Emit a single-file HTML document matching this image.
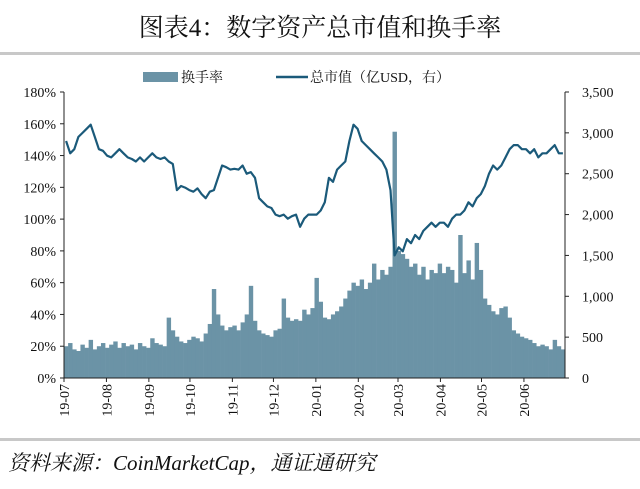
<!DOCTYPE html>
<html><head><meta charset="utf-8"><style>
body{margin:0;background:#fff;width:640px;height:484px;overflow:hidden;font-family:"Liberation Serif","Noto Serif CJK SC",serif}
</style></head><body>
<svg width="640" height="484" xmlns="http://www.w3.org/2000/svg">
<text x="320" y="36" text-anchor="middle" font-size="25" fill="#111" font-family="Liberation Serif, Noto Serif CJK SC, serif">图表4：数字资产总市值和换手率</text>
<rect x="0" y="52" width="640" height="3" fill="#c8c8c8"/>
<g>
<rect x="143" y="72" width="35" height="10" fill="#6b93a6"/>
<text x="181" y="82" font-size="14" fill="#111">换手率</text>
<line x1="276" y1="77" x2="308" y2="77" stroke="#1b5a7a" stroke-width="2.5"/>
<text x="310" y="82" font-size="14" fill="#111">总市值（亿USD，右）</text>
</g>
<g id="plot"></g>
<rect x="0" y="438" width="640" height="3" fill="#c8c8c8"/>
<text x="8" y="470" font-size="21" font-style="italic" fill="#111">资料来源：CoinMarketCap，通证通研究</text>
</svg>
<script>
const turnover=[20,22,18,17,21,19,24,18,20,22,19,
21,23,19,22,20,21,18,22,20,19,
25,22,21,20,38,30,26,23,22,24,
26,25,23,28,34,56,40,33,30,32,
33,30,35,40,58,36,30,28,27,26,
30,31,50,38,36,37,36,43,40,44,
63,48,38,37,40,42,45,50,55,60,58,
62,56,60,72,62,68,65,70,155,
80,78,75,70,72,65,70,62,68,66,72,
66,70,68,60,90,66,74,62,85,68,
50,46,42,40,44,45,38,30,28,26,
25,24,22,20,21,20,18,24,20,18];
const marketCap=[2900,2750,2800,2950,3000,3050,3100,2950,2800,2780,2720,
2700,2750,2800,2750,2700,2680,2650,2700,2650,2700,
2750,2700,2680,2700,2650,2620,2300,2350,2330,2300,
2280,2320,2250,2200,2280,2300,2450,2600,2580,2550,
2560,2550,2600,2500,2520,2450,2200,2150,2100,2080,
2000,1980,2000,1950,1980,2000,1850,1950,2000,2000,
2000,2050,2150,2450,2400,2550,2600,2650,2900,3100,3050,
2900,2850,2800,2750,2700,2650,2550,2300,1500,
1600,1550,1700,1650,1750,1700,1800,1850,1900,1850,1900,
1900,1850,1950,2000,2000,2050,2150,2100,2200,2250,
2350,2500,2600,2550,2600,2700,2800,2850,2850,2800,
2800,2750,2800,2700,2750,2750,2800,2850,2750,2750];
const leftTicks=[0,20,40,60,80,100,120,140,160,180];
const rightTicks=[0,500,1000,1500,2000,2500,3000,3500];
const rightLabels=["0","500","1,000","1,500","2,000","2,500","3,000","3,500"];
const monthLabels=["19-07","19-08","19-09","19-10","19-11","19-12","20-01","20-02","20-03","20-04","20-05","20-06"];
const monthDays=[0,31,62,92,123,153,184,215,244,275,305,336];
const X0=64,X1=565,Y0=378,Y1=92,TOTAL=366,STEP=3;
const xd=d=>X0+d/TOTAL*(X1-X0);
const yl=v=>Y0-v/180*(Y0-Y1);
const yr=v=>Y0-v/3500*(Y0-Y1);
const NS="http://www.w3.org/2000/svg";
const g=document.getElementById('plot');
function mk(t,a){const e=document.createElementNS(NS,t);for(const k in a)e.setAttribute(k,a[k]);g.appendChild(e);return e;}
turnover.forEach((v,i)=>{
 const x=xd(i*STEP),w=xd(Math.min((i+1)*STEP,TOTAL))-x;
 const r=mk('rect',{x:x,y:yl(v),width:w+0.3,height:Y0-yl(v),fill:'#6b93a6'});
 
 
});
const pts=marketCap.map((v,i)=>xd(i*STEP+1.5).toFixed(1)+','+yr(v).toFixed(1)).join(' ');
const pl=mk('polyline',{points:pts,fill:'none',stroke:'#1b5a7a','stroke-width':2.2,'stroke-linejoin':'round'});


const axc='#222';
let a=mk('line',{x1:X0,y1:Y1,x2:X0,y2:Y0,stroke:axc});

a=mk('line',{x1:X1,y1:Y1,x2:X1,y2:Y0,stroke:axc});

a=mk('line',{x1:X0,y1:Y0,x2:X1,y2:Y0,stroke:axc});

leftTicks.forEach(v=>{
 const y=yl(v);mk('line',{x1:X0-4,y1:y,x2:X0,y2:y,stroke:axc});
 const t=mk('text',{x:X0-8,y:y+5,'text-anchor':'end','font-size':14,fill:'#111'});t.textContent=v+'%';
 
});
rightTicks.forEach((v,i)=>{
 const y=yr(v);mk('line',{x1:X1,y1:y,x2:X1+4,y2:y,stroke:axc});
 const t=mk('text',{x:X1+17,y:y+5,'font-size':14,fill:'#111'});t.textContent=rightLabels[i];
 
});
monthLabels.forEach((m,i)=>{
 const x=xd(monthDays[i]);mk('line',{x1:x,y1:Y0,x2:x,y2:Y0+4,stroke:axc});
 const t=mk('text',{x:0,y:0,'text-anchor':'end','font-size':14,fill:'#111',transform:`translate(${x+5},${Y0+6}) rotate(-90)`});t.textContent=m;
 
});
</script>
</body></html>
